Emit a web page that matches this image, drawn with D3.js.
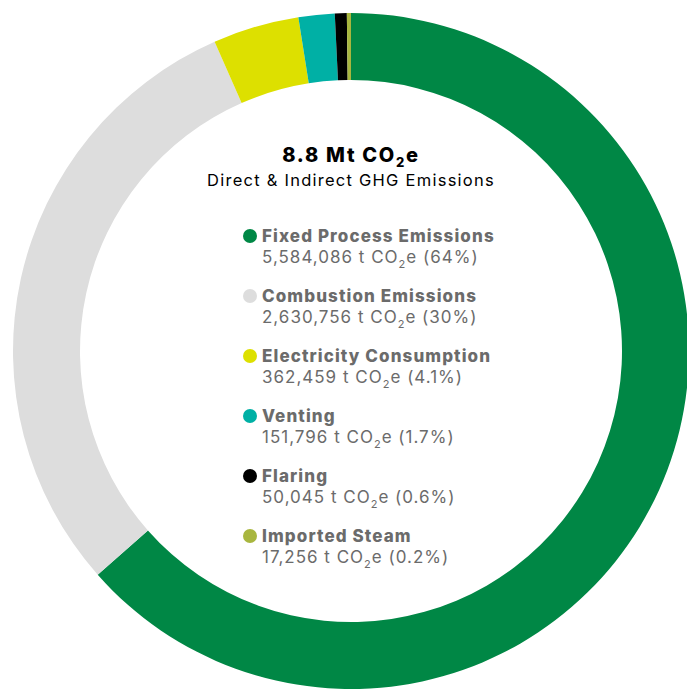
<!DOCTYPE html>
<html>
<head>
<meta charset="utf-8">
<script src="https://cdn.jsdelivr.net/npm/d3@7"></script>
<style>
  html, body { margin: 0; padding: 0; background: #fff; }
  svg { display: block; }
  text { font-family: Inter, "Open Sans", sans-serif; }
</style>
</head>
<body>
<svg id="chart" width="687" height="690"></svg>
<script>
// Emission sources (tonnes CO2e), in drawing order clockwise from 12 o'clock
const categories = ["Fixed Process Emissions", "Combustion Emissions", "Electricity Consumption", "Venting", "Flaring", "Imported Steam"];
const values = [5584086, 2630756, 362459, 151796, 50045, 17256];
const shareLabels = ["64%", "30%", "4.1%", "1.7%", "0.6%", "0.2%"];
const colors = ["#008745", "#dddddd", "#dde000", "#00b0a5", "#000000", "#a8b63f"];
const totalLabel = "8.8 Mt CO";
const subtitle = "Direct & Indirect GHG Emissions";

const svg = d3.select("#chart");
const cx = 351, cy = 351, outerR = 338, innerR = 271;

const data = categories.map((c, i) => ({ name: c, value: values[i], share: shareLabels[i], color: colors[i] }));

const pie = d3.pie().value(d => d.value).sort(null);
const arc = d3.arc().innerRadius(innerR).outerRadius(outerR);

const g = svg.append("g").attr("transform", `translate(${cx},${cy})`);
g.selectAll("path.slice")
  .data(pie(data))
  .join("path")
  .attr("class", "slice")
  .attr("d", arc)
  .attr("fill", d => d.data.color);

// Centre title: total with subscripted 2
const title = svg.append("text")
  .attr("x", cx).attr("y", 162)
  .attr("text-anchor", "middle")
  .attr("font-size", 20).attr("font-weight", 800).attr("fill", "#000")
  .attr("letter-spacing", 1.7);
title.append("tspan").text(totalLabel);
title.append("tspan").attr("font-size", 13).attr("dy", 5).text("2");
title.append("tspan").attr("dy", -5).text("e");

svg.append("text")
  .attr("x", cx).attr("y", 186)
  .attr("text-anchor", "middle")
  .attr("font-size", 16.5).attr("fill", "#000")
  .attr("letter-spacing", 1.25)
  .text(subtitle);

// Legend
const fmt = d3.format(",");
const legend = svg.append("g");
const item = legend.selectAll("g.item")
  .data(data)
  .join("g")
  .attr("class", "item")
  .attr("transform", (d, i) => `translate(0, ${242 + i * 60})`);

item.append("circle")
  .attr("cx", 250).attr("cy", -6).attr("r", 7)
  .attr("fill", d => d.color);

item.append("text")
  .attr("x", 262).attr("y", 0)
  .attr("font-size", 17).attr("font-weight", 800).attr("fill", "#6b6b6b")
  .attr("letter-spacing", 1.1)
  .text(d => d.name);

const val = item.append("text")
  .attr("x", 262).attr("y", 21)
  .attr("font-size", 17).attr("fill", "#6b6b6b")
  .attr("letter-spacing", 1.0);
val.append("tspan").text(d => `${fmt(d.value)} t CO`);
val.append("tspan").attr("font-size", 11).attr("dy", 5).text("2");
val.append("tspan").attr("dy", -5).text(d => `e (${d.share})`);
</script>
</body>
</html>
